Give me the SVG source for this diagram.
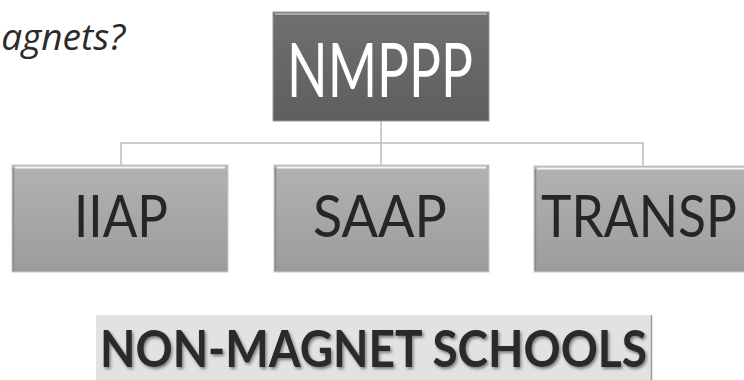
<svg xmlns="http://www.w3.org/2000/svg" width="744" height="380" viewBox="0 0 744 380">
  <defs>
    <linearGradient id="gChild" x1="0" y1="0" x2="0" y2="1">
      <stop offset="0" stop-color="#b2b2b2"/>
      <stop offset="1" stop-color="#9c9c9c"/>
    </linearGradient>
    <linearGradient id="gTop" x1="0" y1="0" x2="0" y2="1">
      <stop offset="0" stop-color="#707070"/>
      <stop offset="1" stop-color="#5e5e5e"/>
    </linearGradient>
    <filter id="shadow" x="-5%" y="-20%" width="110%" height="140%">
      <feDropShadow dx="1.5" dy="2" stdDeviation="1.5" flood-color="#000" flood-opacity="0.45"/>
    </filter>
  </defs>
  <style>
    .child { fill: url(#gChild); stroke: #c8c8c8; stroke-width: 1; }
    .hl { stroke: #f4f4f4; stroke-width: 2; fill: none; }
    .edge { stroke: #8a8a8a; stroke-width: 1.5; fill: none; }
    .lbl { font-family: Lato, "Open Sans", "Liberation Sans", sans-serif; text-anchor: middle; }
    .childTxt { fill: #262626; font-size: 58px; }
    .conn { stroke: #bdbdbd; stroke-width: 1.5; fill: none; }
  </style>

  <text x="125" y="50" text-anchor="end" font-family="'Open Sans', 'Liberation Sans', sans-serif" font-style="italic" font-size="37" fill="#2b2b2b">agnets?</text>

  <g id="connectors">
    <path class="conn" d="M381,121 V165"/>
    <path class="conn" d="M121,165 V143 H643 V165"/>
  </g>

  <g id="nmppp">
    <rect x="273" y="12" width="216" height="109" fill="url(#gTop)" stroke="#9a9a9a" stroke-width="1"/>
    <path d="M275,14 H487" stroke="#a8a8a8" stroke-width="2"/>
    <text class="lbl" x="380" y="97" font-size="76" fill="#ffffff" textLength="186" lengthAdjust="spacingAndGlyphs">NMPPP</text>
  </g>

  <g id="iiap">
    <rect class="child" x="12" y="165" width="216" height="107"/>
    <path class="hl" d="M15,167.5 H225"/>
    <path class="edge" d="M13.5,168 V271"/>
    <text class="lbl childTxt" x="121" y="237" textLength="94" lengthAdjust="spacingAndGlyphs">IIAP</text>
  </g>

  <g id="saap">
    <rect class="child" x="274" y="165" width="215" height="107"/>
    <path class="hl" d="M277,167.5 H486"/>
    <path class="edge" d="M275.5,168 V271"/>
    <text class="lbl childTxt" x="380" y="237" textLength="134" lengthAdjust="spacingAndGlyphs">SAAP</text>
  </g>

  <g id="transp">
    <rect class="child" x="534" y="166" width="216" height="106"/>
    <path class="hl" d="M537,168.5 H750"/>
    <path class="edge" d="M535.5,169 V271"/>
    <text class="lbl childTxt" x="639" y="237" textLength="196" lengthAdjust="spacingAndGlyphs">TRANSP</text>
  </g>

  <g id="banner">
    <rect x="96" y="315" width="555" height="70" fill="#e2e2e2"/>
    <path d="M651.5,315 V380" stroke="#9a9a9a" stroke-width="1.5"/>
    <text x="100" y="367" font-family="Lato, 'Open Sans', 'Liberation Sans', sans-serif" font-weight="bold" font-size="51" fill="#2a2a2a" textLength="547" lengthAdjust="spacingAndGlyphs" filter="url(#shadow)">NON-MAGNET SCHOOLS</text>
  </g>
</svg>
